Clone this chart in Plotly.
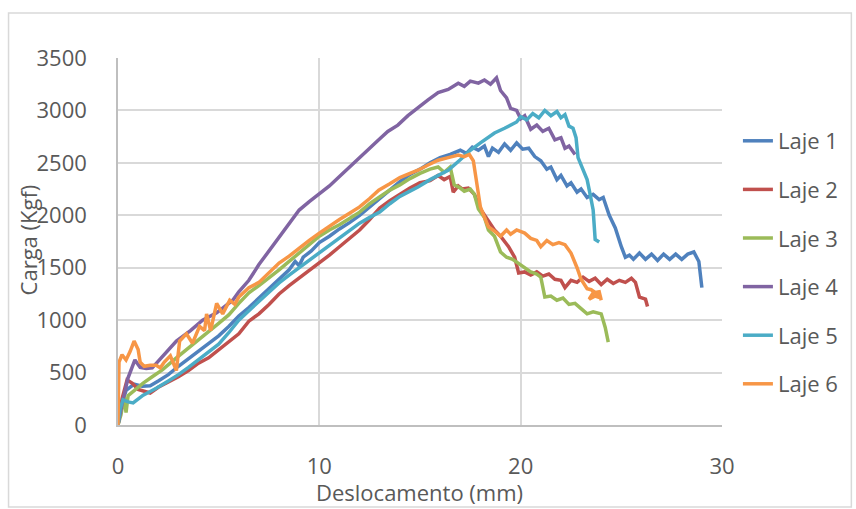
import plotly.graph_objects as go

names = ["Laje 1", "Laje 2", "Laje 3", "Laje 4", "Laje 5", "Laje 6"]
colors = ["#4F81BD", "#C0504D", "#9BBB59", "#8064A2", "#4BACC6", "#F79646"]

laje1_x = [0, 0.15, 0.4, 0.8, 1.2, 1.6, 2.0, 2.5, 3.0, 3.5, 4.0, 4.5, 5.0, 5.5, 6.0, 6.5, 7.0, 7.5, 8.0, 8.5, 8.8, 9.0, 9.2, 9.6, 10.0, 10.5, 11.0, 11.5, 12.0, 12.5, 13.0, 13.5, 14.0, 14.5, 15.0, 15.5, 16.0, 16.5, 17.0, 17.3, 17.6, 17.9, 18.2, 18.4, 18.6, 18.9, 19.2, 19.5, 19.8, 20.1, 20.4, 20.7, 21.0, 21.3, 21.5, 21.8, 22.0, 22.3, 22.5, 22.8, 23.0, 23.3, 23.6, 23.9, 24.1, 24.4, 24.7, 25.0, 25.2, 25.4, 25.6, 25.9, 26.2, 26.5, 26.8, 27.1, 27.4, 27.7, 28.0, 28.3, 28.6, 28.85, 28.95, 29.0]
laje1_y = [0, 180, 330, 390, 370, 375, 420, 480, 560, 630, 700, 780, 850, 940, 1040, 1120, 1210, 1300, 1400, 1480, 1560, 1520, 1600, 1660, 1740, 1800, 1870, 1930, 2000, 2080, 2160, 2250, 2320, 2390, 2440, 2500, 2550, 2580, 2620, 2590, 2650, 2620, 2660, 2560, 2640, 2600, 2680, 2620, 2690, 2630, 2640, 2560, 2520, 2440, 2460, 2340, 2380, 2280, 2310, 2220, 2250, 2170, 2200, 2150, 2170, 2000, 1880, 1700, 1600, 1620, 1580, 1640, 1580, 1630, 1570, 1630, 1580, 1630, 1580, 1630, 1650, 1560, 1400, 1310]

laje2_x = [0, 0.2, 0.45, 0.7, 1.0, 1.3, 1.6, 2.0, 2.5, 3.0, 3.5, 4.0, 4.5, 5.0, 5.5, 6.0, 6.5, 7.0, 7.5, 8.0, 8.5, 9.0, 9.5, 10.0, 10.5, 11.0, 11.5, 12.0, 12.5, 13.0, 13.5, 14.0, 14.5, 15.0, 15.5, 15.9, 16.2, 16.5, 16.65, 16.9, 17.1, 17.4, 17.7, 18.0, 18.3, 18.7, 19.0, 19.4, 19.7, 19.9, 20.2, 20.5, 20.8, 21.1, 21.4, 21.7, 22.0, 22.2, 22.5, 22.8, 23.1, 23.4, 23.7, 24.0, 24.3, 24.6, 24.9, 25.2, 25.5, 25.7, 25.9, 26.2, 26.3]
laje2_y = [0, 250, 430, 400, 340, 320, 305, 360, 410, 460, 520, 590, 640, 720, 800, 870, 990, 1060, 1150, 1250, 1330, 1400, 1470, 1540, 1620, 1700, 1780, 1860, 1960, 2070, 2140, 2200, 2260, 2310, 2330, 2380, 2340, 2370, 2220, 2280, 2250, 2260, 2200, 2060, 1980, 1860, 1800, 1700, 1600, 1450, 1460, 1430, 1460, 1420, 1440, 1390, 1380, 1310, 1380, 1360, 1410, 1370, 1400, 1340, 1390, 1350, 1380, 1360, 1400, 1360, 1220, 1200, 1130]

laje3_x = [0, 0.15, 0.3, 0.4, 0.5, 0.8, 1.25, 1.7, 2.2, 2.9, 3.6, 4.3, 5.0, 5.5, 6.0, 6.5, 7.0, 7.5, 8.0, 8.5, 9.0, 9.5, 10.0, 10.5, 11.0, 11.5, 12.0, 12.5, 13.0, 13.5, 14.0, 14.5, 15.0, 15.5, 15.9, 16.2, 16.5, 16.7, 17.0, 17.2, 17.5, 17.7, 17.9, 18.2, 18.4, 18.7, 19.0, 19.3, 19.6, 19.9, 20.2, 20.5, 20.8, 21.0, 21.2, 21.5, 21.8, 22.1, 22.4, 22.7, 23.0, 23.3, 23.6, 24.0, 24.2, 24.3, 24.35]
laje3_y = [0, 100, 270, 120, 280, 330, 400, 460, 525, 640, 745, 860, 970, 1050, 1160, 1260, 1330, 1400, 1480, 1560, 1640, 1720, 1800, 1860, 1910, 1970, 2030, 2110, 2180, 2240, 2290, 2350, 2400, 2440, 2460, 2410, 2460, 2290, 2260, 2230, 2250, 2200, 2060, 1980, 1860, 1800, 1650, 1600, 1580, 1540, 1510, 1460, 1440, 1410, 1220, 1230, 1190, 1210, 1150, 1160, 1110, 1060, 1080, 1060, 930, 830, 790]

laje4_x = [0, 0.2, 0.5, 0.84, 1.1, 1.4, 1.7, 2.2, 2.9, 3.6, 4.2, 4.9, 5.4, 5.7, 6.0, 6.5, 7.0, 7.5, 8.0, 8.5, 9.0, 9.5, 10.0, 10.5, 11.0, 11.5, 12.0, 12.5, 12.95, 13.4, 13.9, 14.4, 14.9, 15.4, 15.9, 16.4, 16.9, 17.2, 17.5, 17.9, 18.2, 18.5, 18.8, 19.0, 19.3, 19.5, 19.8, 20.0, 20.2, 20.5, 20.8, 21.1, 21.4, 21.7, 22.0, 22.2, 22.4, 22.7]
laje4_y = [0, 200, 450, 620, 550, 540, 545, 650, 800, 900, 1000, 1070, 1150, 1190, 1270, 1380, 1530, 1660, 1790, 1930, 2050, 2130, 2200, 2280, 2370, 2460, 2560, 2650, 2720, 2800, 2860, 2950, 3030, 3100, 3170, 3200, 3260, 3230, 3280, 3260, 3290, 3250, 3310, 3190, 3120, 3020, 3000, 2920, 2950, 2820, 2860, 2800, 2830, 2720, 2740, 2640, 2660, 2580]

laje5_x = [0, 0.1, 0.25, 0.5, 0.75, 1.0, 1.25, 1.6, 1.9, 2.5, 3.0, 3.5, 4.0, 4.5, 5.0, 5.5, 6.0, 6.5, 7.0, 7.5, 8.0, 8.5, 9.0, 9.5, 10.0, 10.5, 11.0, 11.5, 12.0, 12.5, 13.0, 13.5, 14.0, 14.5, 14.9, 15.5, 16.0, 16.4, 17.0, 17.5, 18.0, 18.3, 18.7, 19.2, 19.8, 20.0, 20.3, 20.6, 20.9, 21.2, 21.5, 21.8, 22.0, 22.2, 22.4, 22.6, 22.75, 22.85, 23.0, 23.3, 23.45, 23.6, 23.7, 23.9]
laje5_y = [0, 150, 240, 220, 210, 250, 285, 320, 350, 420, 480, 550, 620, 690, 770, 880, 1000, 1090, 1180, 1270, 1355, 1430, 1500, 1570, 1640, 1710, 1780, 1850, 1925, 1980, 2030, 2110, 2180, 2230, 2270, 2340, 2390, 2430, 2530, 2620, 2690, 2730, 2785, 2830, 2890, 2940, 2910, 2970, 2930, 3000, 2950, 2990, 2930, 2960, 2850, 2830, 2740, 2550, 2480, 2340, 2200, 2050, 1770, 1745]

laje6_x = [0, 0.05, 0.2, 0.4, 0.6, 0.8, 1.0, 1.1, 1.3, 1.6, 1.9, 2.1, 2.3, 2.6, 2.9, 3.06, 3.4, 3.7, 4.05, 4.3, 4.4, 4.6, 4.9, 5.2, 5.55, 5.8, 6.0, 6.5, 7.0, 7.5, 8.0, 8.5, 9.0, 9.5, 10.0, 10.5, 11.0, 11.5, 12.0, 12.5, 12.95, 13.5, 14.0, 14.5, 14.9, 15.4, 15.9, 16.4, 16.9, 17.2, 17.45, 17.65, 17.8, 18.0, 18.2, 18.4, 18.7, 19.0, 19.3, 19.5, 19.8, 20.2, 20.5, 20.8, 21.0, 21.3, 21.6, 21.9, 22.2, 22.5, 22.8, 23.0, 23.3, 23.5, 23.8, 24.0, 23.7, 23.4, 23.6, 23.9, 24.0]
laje6_y = [0, 600, 670, 620, 700, 800, 720, 600, 560, 570, 570, 545, 600, 660, 520, 800, 870, 780, 940, 900, 1060, 900, 1160, 1060, 1190, 1150, 1220, 1310, 1360, 1450, 1545, 1610, 1690, 1760, 1830, 1900, 1960, 2020, 2080, 2160, 2240, 2300, 2360, 2400, 2430, 2480, 2525, 2550, 2575, 2560, 2580, 2520, 2330, 2080, 1980, 1890, 1850, 1800, 1860, 1820, 1860, 1830, 1780, 1760, 1700, 1760, 1720, 1740, 1720, 1640, 1500, 1390, 1300, 1290, 1250, 1210, 1230, 1200, 1260, 1270, 1190]

xs = [laje1_x, laje2_x, laje3_x, laje4_x, laje5_x, laje6_x]
ys = [laje1_y, laje2_y, laje3_y, laje4_y, laje5_y, laje6_y]

x_ticks = [0, 10, 20, 30]
y_ticks = [0, 500, 1000, 1500, 2000, 2500, 3000, 3500]

FONT = "Open Sans, Lato, sans-serif"
TXT = "#595959"
FS = 22

fig = go.Figure()
for n, c, x, y in zip(names, colors, xs, ys):
    fig.add_trace(go.Scatter(x=x, y=y, mode="lines", name=n, legendgroup=n,
                             line=dict(color=c, width=3.5)))

W, H = 856, 509
L, R, T, B = 118, 725, 58, 425
pw, ph = R - L, B - T

fig.update_layout(
    width=W, height=H,
    margin=dict(l=L, r=W - R, t=T, b=H - B, pad=0),
    paper_bgcolor="white", plot_bgcolor="white",
    font=dict(family=FONT, size=FS, color=TXT),
    showlegend=True,
    legend=dict(x=(741 - L) / pw, xanchor="left", y=(B - 120) / ph, yanchor="top",
                font=dict(size=FS, color=TXT), tracegroupgap=17,
                bgcolor="rgba(0,0,0,0)"),
    xaxis=dict(range=[0, 30], tickvals=x_ticks, showgrid=True, gridcolor="#d9d9d9",
               gridwidth=1.5, showline=True, linecolor="#bfbfbf", linewidth=1.5,
               zeroline=False, ticks="", ticklabelstandoff=21,
               tickfont=dict(size=FS, color=TXT)),
    yaxis=dict(range=[0, 3500], tickvals=y_ticks, showgrid=True, gridcolor="#d9d9d9",
               gridwidth=1.5, showline=True, linecolor="#bfbfbf", linewidth=1.5,
               zeroline=False, ticks="", ticklabelstandoff=25,
               tickfont=dict(size=FS, color=TXT)),
    annotations=[
        dict(text="Carga (Kgf)", xref="paper", yref="paper",
             x=(28 - L) / pw, y=(B - 240) / ph, xanchor="center", yanchor="middle",
             textangle=-90, showarrow=False, font=dict(size=FS, color=TXT)),
        dict(text="Deslocamento (mm)", xref="paper", yref="paper",
             x=(421 - L) / pw, y=(B - 492) / ph, xanchor="center", yanchor="middle",
             showarrow=False, font=dict(size=FS, color=TXT)),
    ],
    shapes=[
        dict(type="rect", xref="paper", yref="paper",
             x0=(8 - L) / pw, x1=(855 - L) / pw, y0=(B - 507) / ph, y1=(B - 13) / ph,
             line=dict(color="#d9d9d9", width=1.5), fillcolor="rgba(0,0,0,0)", layer="below"),
    ],
)

fig.write_html("out.html")
